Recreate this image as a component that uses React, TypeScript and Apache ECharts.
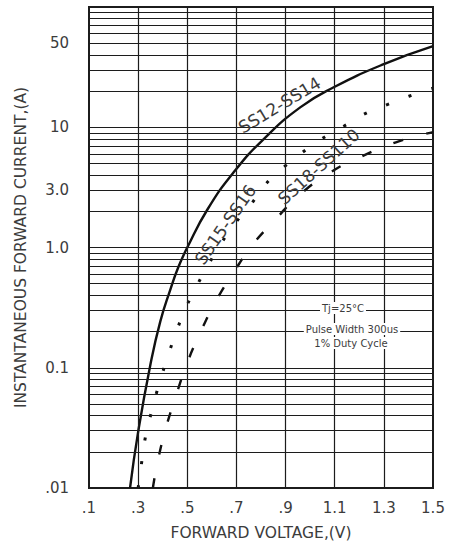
import React, { useEffect, useRef } from "react";
import * as echarts from "echarts";

// Tick values and labels
const voltTicks = [0.1, 0.3, 0.5, 0.7, 0.9, 1.1, 1.3, 1.5];
const voltLabels = [".1", ".3", ".5", ".7", ".9", "1.1", "1.3", "1.5"];
const voltGrid = [0.3, 0.5, 0.7, 0.9, 1.1, 1.3];
const currentTicks = [0.01, 0.1, 1, 3, 10, 50];
const currentLabels = [".01", "0.1", "1.0", "3.0", "10", "50"];
const currentMinor = [
  0.02, 0.03, 0.04, 0.05, 0.06, 0.07, 0.08, 0.09,
  0.2, 0.3, 0.4, 0.5, 0.6, 0.7, 0.8, 0.9,
  2, 3, 4, 5, 6, 7, 8, 9,
  20, 30, 40, 50, 60, 70, 80, 90,
];

// Curves [forward voltage V, forward current A]
const ss12_14 = [
  [0.267, 0.01], [0.3, 0.0293], [0.349, 0.104], [0.39, 0.242], [0.431, 0.447],
  [0.463, 0.681], [0.5, 1.0], [0.582, 2.07], [0.688, 4.2], [0.81, 7.94],
  [0.961, 14.7], [1.096, 21.5], [1.3, 33.5], [1.5, 47.3],
];
const ss15_16 = [
  [0.3, 0.01], [0.312, 0.015], [0.324, 0.023], [0.345, 0.036], [0.369, 0.056],
  [0.398, 0.089], [0.427, 0.136], [0.463, 0.22], [0.5, 0.335], [0.541, 0.49],
  [0.586, 0.72], [0.64, 1.1], [0.696, 1.6], [0.76, 2.3], [0.818, 3.35],
  [0.892, 4.64], [0.969, 6.19], [1.051, 8.1], [1.137, 10.2], [1.218, 12.8],
  [1.316, 15.5], [1.402, 18.1], [1.5, 21.1],
];
const ss18_110 = [
  [0.36, 0.01], [0.378, 0.016], [0.41, 0.03], [0.451, 0.056], [0.5, 0.11],
  [0.55, 0.19], [0.614, 0.35], [0.684, 0.6], [0.767, 1.06], [0.859, 1.71],
  [0.953, 2.7], [1.09, 4.3], [1.2, 5.6], [1.349, 7.5], [1.5, 9.1],
];

const curveLabels = [
  { name: "SS12-SS14", coord: [0.875, 15.3], rotate: 31 },
  { name: "SS15-SS16", coord: [0.655, 1.55], rotate: 55 },
  { name: "SS18-SS110", coord: [1.035, 4.7], rotate: 42 },
];

const LINE = "#1c1c1c";
const TEXT = "#3c3c3c";
const FONT = "DejaVu Sans";

function lookup(v: number, ticks: number[], labels: string[]) {
  for (let i = 0; i < ticks.length; i++) {
    if (Math.abs(v - ticks[i]) < 1e-6 * Math.max(1, ticks[i])) return labels[i];
  }
  return "";
}

function labelPoint(i: number) {
  const c = curveLabels[i];
  return {
    symbol: "circle",
    symbolSize: 0,
    silent: true,
    data: [
      {
        coord: c.coord,
        label: {
          show: true,
          position: "inside",
          formatter: c.name,
          rotate: c.rotate,
          fontSize: 17,
          color: TEXT,
          fontFamily: FONT,
        },
      },
    ],
  };
}

function note(text: string, x: number, y: number) {
  return {
    type: "text",
    x,
    y,
    z: 100,
    style: {
      text,
      fill: TEXT,
      font: "10px " + FONT,
      align: "center",
      verticalAlign: "middle",
      backgroundColor: "#fff",
      padding: [1, 2],
    },
  };
}

export default function App() {
  const ref = useRef<HTMLDivElement>(null);
  useEffect(() => {
    document.body.style.margin = "0";
    if (!ref.current) return;
    const chart = echarts.init(ref.current, null, { renderer: "svg" });
    chart.setOption({
      animation: false,
      backgroundColor: "#ffffff",
      grid: {
        left: 89,
        right: 16,
        top: 7,
        bottom: 58,
        show: true,
        borderColor: LINE,
        borderWidth: 2,
      },
      xAxis: {
        type: "value",
        min: 0.1,
        max: 1.5,
        axisLine: { show: false },
        axisTick: { show: false },
        splitLine: { show: false },
        axisLabel: {
          customValues: voltTicks,
          formatter: (v: number) => lookup(v, voltTicks, voltLabels),
          fontSize: 15,
          color: TEXT,
          fontFamily: FONT,
          margin: 12,
        },
        name: "FORWARD VOLTAGE,(V)",
        nameLocation: "middle",
        nameGap: 37,
        nameTextStyle: { fontSize: 15.5, color: TEXT, fontFamily: FONT },
      },
      yAxis: {
        type: "log",
        logBase: 10,
        min: 0.01,
        max: 100,
        axisLine: { show: false },
        axisTick: { show: false },
        splitLine: { show: true, lineStyle: { color: LINE, width: 1.2 } },
        axisLabel: {
          customValues: currentTicks,
          formatter: (v: number) => lookup(v, currentTicks, currentLabels),
          fontSize: 15,
          color: TEXT,
          fontFamily: FONT,
          margin: 20,
        },
        name: "INSTANTANEOUS FORWARD CURRENT,(A)",
        nameLocation: "middle",
        nameRotate: 90,
        nameGap: 60,
        nameTextStyle: { fontSize: 15.5, color: TEXT, fontFamily: FONT },
      },
      graphic: [
        note("Tj=25°C", 343, 308),
        note("Pulse Width 300us", 352, 329),
        note("1% Duty Cycle", 351, 343),
      ],
      series: [
        {
          type: "line",
          name: "grid",
          data: [],
          z: 1,
          silent: true,
          markLine: {
            silent: true,
            symbol: ["none", "none"],
            label: { show: false },
            lineStyle: { type: "solid", color: LINE, width: 1.2 },
            emphasis: { disabled: true },
            data: [
              ...currentMinor.map((v) => ({ yAxis: v })),
              ...voltGrid.map((v) => ({ xAxis: v })),
            ],
          },
        },
        {
          type: "line",
          name: "SS12-SS14",
          data: ss12_14,
          smooth: 0.5,
          showSymbol: false,
          z: 3,
          lineStyle: { color: "#111", width: 2.4, type: "solid" },
          markPoint: labelPoint(0),
        },
        {
          type: "line",
          name: "SS15-SS16",
          data: ss15_16,
          smooth: 0.5,
          showSymbol: false,
          z: 3,
          lineStyle: { color: "#111", width: 3, type: [3, 21] },
          markPoint: labelPoint(1),
        },
        {
          type: "line",
          name: "SS18-SS110",
          data: ss18_110,
          smooth: 0.5,
          showSymbol: false,
          z: 3,
          lineStyle: { color: "#111", width: 2.4, type: [10, 24] },
          markPoint: labelPoint(2),
        },
      ],
    });
    return () => chart.dispose();
  }, []);
  return <div ref={ref} style={{ width: 449, height: 546 }} />;
}
